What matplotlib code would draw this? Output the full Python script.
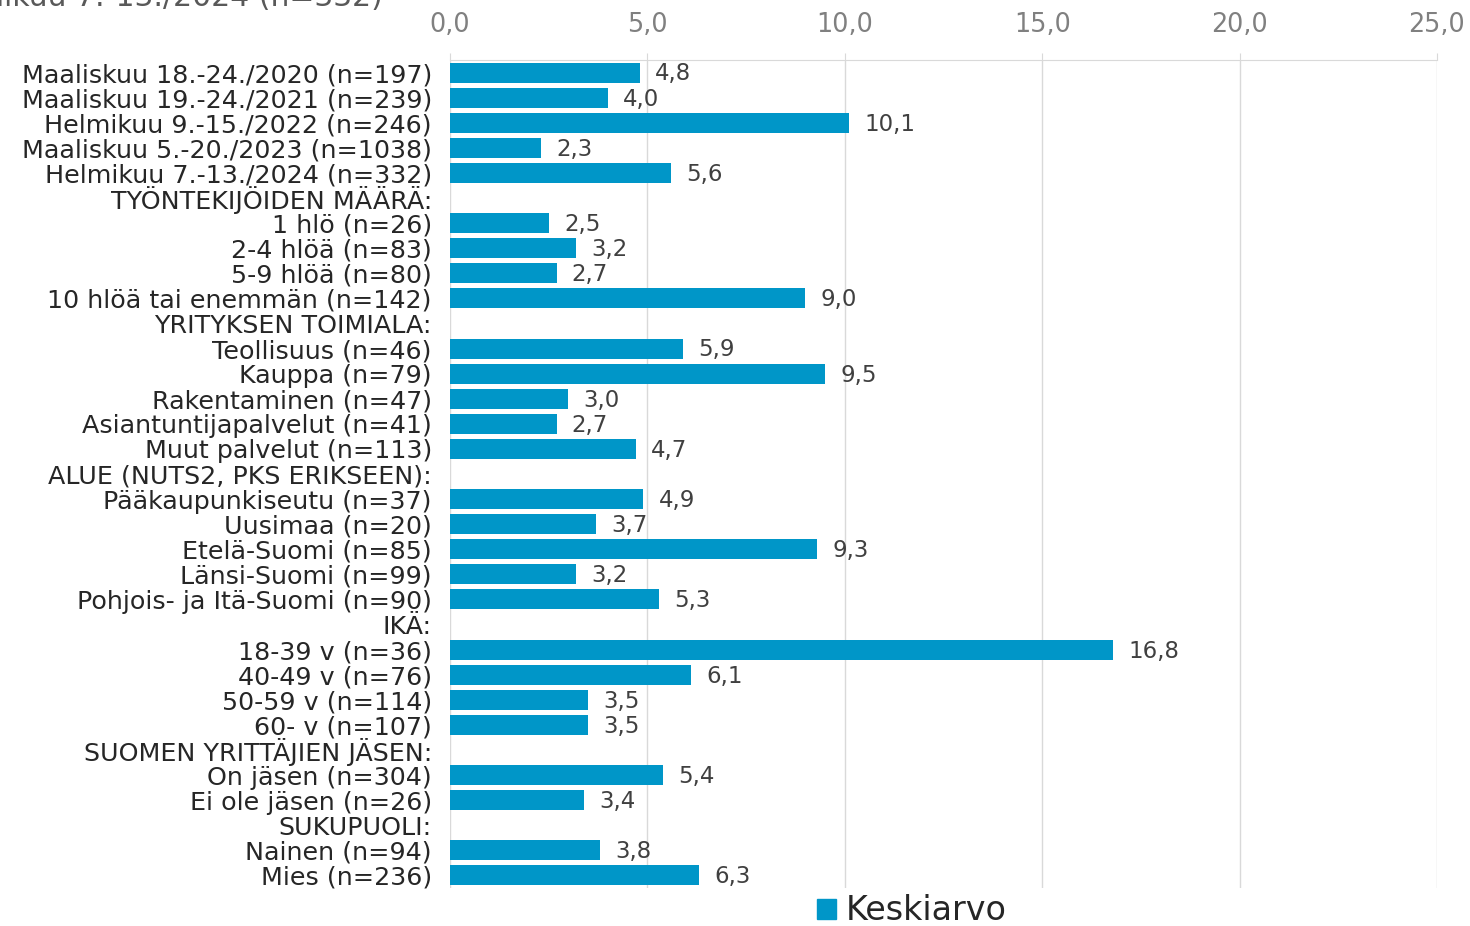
import matplotlib
matplotlib.use("Agg")
import matplotlib.pyplot as plt
from matplotlib.patches import Patch

# rivit ylhäältä alas; None = otsikkorivi ilman palkkia
LABELS = [
    "Maaliskuu 18.-24./2020 (n=197)",
    "Maaliskuu 19.-24./2021 (n=239)",
    "Helmikuu 9.-15./2022 (n=246)",
    "Maaliskuu 5.-20./2023 (n=1038)",
    "Helmikuu 7.-13./2024 (n=332)",
    "TYÖNTEKIJÖIDEN MÄÄRÄ:",
    "1 hlö (n=26)",
    "2-4 hlöä (n=83)",
    "5-9 hlöä (n=80)",
    "10 hlöä tai enemmän (n=142)",
    "YRITYKSEN TOIMIALA:",
    "Teollisuus (n=46)",
    "Kauppa (n=79)",
    "Rakentaminen (n=47)",
    "Asiantuntijapalvelut (n=41)",
    "Muut palvelut (n=113)",
    "ALUE (NUTS2, PKS ERIKSEEN):",
    "Pääkaupunkiseutu (n=37)",
    "Uusimaa (n=20)",
    "Etelä-Suomi (n=85)",
    "Länsi-Suomi (n=99)",
    "Pohjois- ja Itä-Suomi (n=90)",
    "IKÄ:",
    "18-39 v (n=36)",
    "40-49 v (n=76)",
    "50-59 v (n=114)",
    "60- v (n=107)",
    "SUOMEN YRITTÄJIEN JÄSEN:",
    "On jäsen (n=304)",
    "Ei ole jäsen (n=26)",
    "SUKUPUOLI:",
    "Nainen (n=94)",
    "Mies (n=236)",
]
VALUES = [
    4.8, 4.0, 10.1, 2.3, 5.6,
    None, 2.5, 3.2, 2.7, 9.0,
    None, 5.9, 9.5, 3.0, 2.7, 4.7,
    None, 4.9, 3.7, 9.3, 3.2, 5.3,
    None, 16.8, 6.1, 3.5, 3.5,
    None, 5.4, 3.4,
    None, 3.8, 6.3,
]
XTICKS = [0, 5, 10, 15, 20, 25]
TITLE = "Helmikuu 7.-13./2024 (n=332)"

BLUE = "#0096C8"
GRID = "#d9d9d9"
TXT = "#262626"

W, H = 1470, 926
fig = plt.figure(figsize=(W / 100, H / 100), dpi=100)
ax = fig.add_axes([450 / W, 1 - 888 / H, 987 / W, 828 / H])

ys = [i for i, v in enumerate(VALUES) if v is not None]
vals = [v for v in VALUES if v is not None]
ax.barh(ys, vals, height=0.8, color=BLUE, zorder=3)
for y, v in zip(ys, vals):
    ax.annotate(f"{v:.1f}".replace(".", ","), (v, y), xytext=(11, -1),
                textcoords="offset points", va="center", ha="left",
                fontsize=16.5, color="#404040")

ax.set_xlim(0, 25)
ax.set_ylim(len(LABELS) - 0.5, -0.5)
ax.set_yticks(range(len(LABELS)))
ax.set_yticklabels(LABELS, fontsize=18.3, color=TXT)
ax.tick_params(axis="y", length=0, pad=13)
ax.xaxis.tick_top()
ax.set_xticks(XTICKS)
ax.set_xticklabels([f"{t:.1f}".replace(".", ",") for t in XTICKS],
                   fontsize=18.4, color="#808080")
ax.tick_params(axis="x", length=5, color=GRID, pad=10.5)
ax.grid(axis="x", color=GRID, linewidth=1, zorder=0)
for s in ("left", "right", "bottom"):
    ax.spines[s].set_visible(False)
ax.spines["top"].set_color(GRID)

# osittain näkyvä otsikko kuvan yläreunassa (leikkautuu kuten alkuperäisessä)
fig.text(383 / W, 1 - 6 / H, TITLE, ha="right", va="baseline",
         fontsize=21.5, color="#595959")

fig.legend([Patch(color=BLUE)], ["Keskiarvo"], loc="center",
           bbox_to_anchor=(912 / W, 1 - 911 / H), frameon=False,
           fontsize=24, handlelength=0.55, handleheight=0.55, handletextpad=0.3,
           labelcolor=TXT)

fig.savefig("out.png", dpi=100)
